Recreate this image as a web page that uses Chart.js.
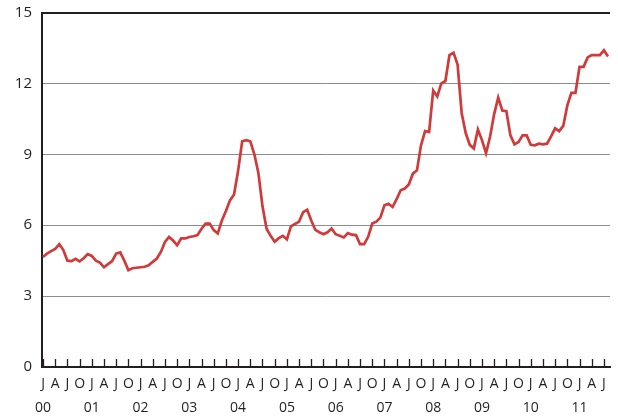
<!DOCTYPE html>
<html>
<head>
<meta charset="utf-8">
<script src="https://cdn.jsdelivr.net/npm/chart.js@4.4.1/dist/chart.umd.min.js"></script>
<style>
  html, body { margin: 0; padding: 0; background: #ffffff; }
  #c { display: block; }
</style>
</head>
<body>
<canvas id="c" width="618" height="420"></canvas>
<script>
// Monthly series, Jan 2000 – Aug 2011 (per cent)
const startYear = 2000;
const quarterLetters = ['J', 'A', 'J', 'O'];
const yearLabels = ['00', '01', '02', '03', '04', '05', '06', '07', '08', '09', '10', '11'];
const yTickValues = [0, 3, 6, 9, 12, 15];

const values2000 = [4.65, 4.8, 4.9, 5.0, 5.2, 4.95, 4.5, 4.48, 4.58, 4.47, 4.6, 4.78];
const values2001 = [4.7, 4.5, 4.42, 4.22, 4.35, 4.48, 4.8, 4.85, 4.5, 4.1, 4.18, 4.2];
const values2002 = [4.22, 4.24, 4.3, 4.45, 4.59, 4.87, 5.29, 5.5, 5.35, 5.15, 5.44, 5.44];
const values2003 = [5.5, 5.53, 5.58, 5.85, 6.07, 6.07, 5.79, 5.65, 6.2, 6.6, 7.05, 7.3];
const values2004 = [8.3, 9.55, 9.6, 9.55, 9.0, 8.2, 6.8, 5.85, 5.55, 5.3, 5.45, 5.55];
const values2005 = [5.4, 5.95, 6.05, 6.15, 6.55, 6.65, 6.2, 5.8, 5.7, 5.62, 5.7, 5.86];
const values2006 = [5.62, 5.55, 5.48, 5.67, 5.6, 5.58, 5.2, 5.2, 5.51, 6.07, 6.15, 6.32];
const values2007 = [6.84, 6.91, 6.77, 7.1, 7.48, 7.55, 7.72, 8.18, 8.32, 9.38, 9.98, 9.95];
const values2008 = [11.7, 11.45, 12.0, 12.1, 13.2, 13.3, 12.8, 10.75, 9.9, 9.4, 9.25, 10.05];
const values2009 = [9.6, 9.05, 9.75, 10.7, 11.4, 10.85, 10.82, 9.8, 9.42, 9.52, 9.8, 9.8];
const values2010 = [9.4, 9.38, 9.45, 9.42, 9.45, 9.76, 10.1, 9.98, 10.2, 11.07, 11.6, 11.6];
const values2011 = [12.7, 12.7, 13.1, 13.2, 13.2, 13.2, 13.4, 13.14];

const values = [].concat(values2000, values2001, values2002, values2003, values2004,
  values2005, values2006, values2007, values2008, values2009, values2010, values2011);

const INK = '#231f20';
const RED = '#d13a3a';
const GRID = '#8c8c8c';

const innerTicks = {
  id: 'innerTicks',
  afterDraw(chart) {
    const sx = chart.scales.x;
    const ctx = chart.ctx;
    const bottom = chart.chartArea.bottom;
    ctx.save();
    ctx.strokeStyle = INK;
    ctx.lineWidth = 1.3;
    sx.ticks.forEach(t => {
      if (t.value % 3 !== 0) return;
      const px = Math.round(sx.getPixelForValue(t.value)) + 0.5;
      ctx.beginPath();
      ctx.moveTo(px, bottom);
      ctx.lineTo(px, bottom - 8);
      ctx.stroke();
    });
    ctx.restore();
  }
};

new Chart(document.getElementById('c'), {
  type: 'line',
  data: {
    datasets: [{
      data: values.map((v, i) => ({ x: i, y: v })),
      borderColor: RED,
      borderWidth: 2.7,
      pointRadius: 0,
      tension: 0,
      fill: false
    }]
  },
  options: {
    responsive: false,
    animation: false,
    devicePixelRatio: 1,
    layout: { padding: { top: 12.5, right: 8, left: 0, bottom: 0 } },
    plugins: { legend: { display: false }, tooltip: { enabled: false } },
    scales: {
      x: {
        type: 'linear',
        min: -0.25,
        max: 139.5,
        afterFit(scale) {
          scale.height = 53;
          scale.paddingLeft = 0;
          scale.paddingRight = 0;
        },
        grid: { display: false, drawTicks: false },
        border: { display: true, color: INK, width: 2 },
        ticks: {
          stepSize: 3,
          includeBounds: false,
          autoSkip: false,
          maxRotation: 0,
          padding: 5,
          color: INK,
          font: { family: '"Open Sans", "Noto Sans", sans-serif', size: 14, lineHeight: 1.7 },
          callback(v) {
            if (v % 3 !== 0) return '';
            const q = (v / 3) % 4;
            const letter = quarterLetters[q];
            return q === 0 ? [letter, yearLabels[v / 12]] : [letter, ''];
          }
        },
        afterBuildTicks(scale) {
          const ticks = [];
          for (let v = 0; v <= 138; v += 3) ticks.push({ value: v });
          scale.ticks = ticks;
        }
      },
      y: {
        min: 0,
        max: 15,
        afterFit(scale) {
          scale.width = 42;
          scale.paddingTop = 0;
          scale.paddingBottom = 0;
        },
        afterBuildTicks(scale) { scale.ticks = yTickValues.map(v => ({ value: v })); },
        grid: {
          drawTicks: false,
          color: ctx => (ctx.tick && ctx.tick.value === 15) ? INK : GRID,
          lineWidth: ctx => (ctx.tick && ctx.tick.value === 15) ? 2 : 1
        },
        border: { display: true, color: INK, width: 2 },
        ticks: {
          padding: 10,
          color: INK,
          font: { family: '"Open Sans", "Noto Sans", sans-serif', size: 15 }
        }
      }
    }
  },
  plugins: [innerTicks]
});
</script>
</body>
</html>
